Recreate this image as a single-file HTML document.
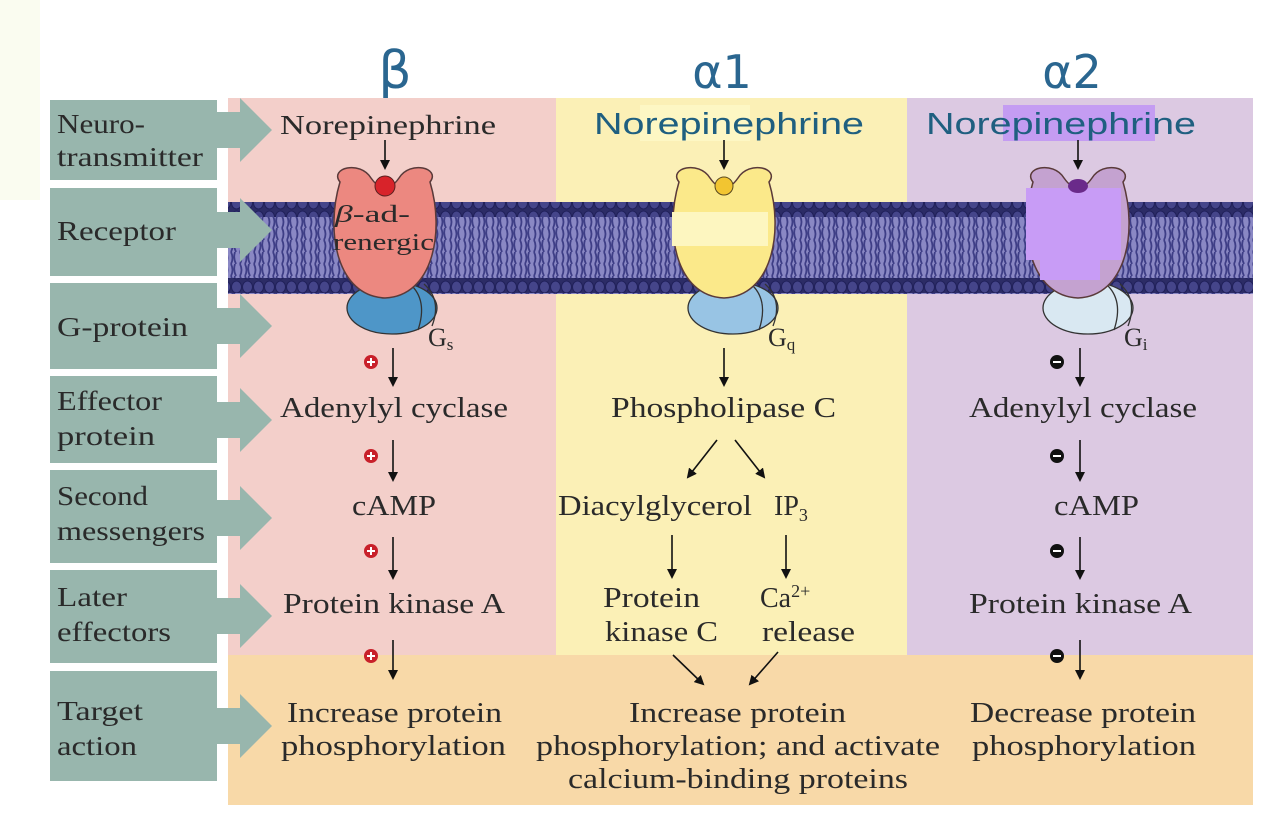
<!DOCTYPE html>
<html><head><meta charset="utf-8"><style>
html,body{margin:0;padding:0;background:#fff;}
svg{display:block;}
text{font-family:"Liberation Serif",serif;fill:#2a2a2a;}
</style></head><body>
<svg width="1268" height="816" viewBox="0 0 1268 816" xmlns="http://www.w3.org/2000/svg">
<defs>
<marker id="ah" markerWidth="10" markerHeight="10" refX="8" refY="5" orient="auto" markerUnits="userSpaceOnUse">
<path d="M0,0 L10,5 L0,10 Z" fill="#111"/></marker>
<pattern id="lip" width="14" height="12" patternUnits="userSpaceOnUse">
<rect width="14" height="12" fill="#8a88c4"/>
<path d="M2,0 Q5,6 2,12 M7,0 Q10,6 7,12 M11,0 Q9,6 12,12" stroke="#3e3e86" stroke-width="1.8" fill="none"/>
</pattern>
<pattern id="heads" width="11" height="14" patternUnits="userSpaceOnUse">
<rect width="11" height="14" fill="#2c2c66"/>
<ellipse cx="5.5" cy="7" rx="5" ry="6" fill="#45458a" stroke="#20205a" stroke-width="1"/>
</pattern>
</defs>
<rect width="1268" height="816" fill="#fff"/>
<rect x="0" y="0" width="40" height="200" fill="#fafcf0"/>
<!-- titles -->
<text x="395" y="88" font-size="52" text-anchor="middle" style="font-family:'DejaVu Sans',sans-serif;fill:#2a6690">β</text>
<text x="722" y="88" font-size="46" text-anchor="middle" style="font-family:'DejaVu Sans',sans-serif;fill:#2a6690">α1</text>
<text x="1072" y="88" font-size="46" text-anchor="middle" style="font-family:'DejaVu Sans',sans-serif;fill:#2a6690">α2</text>
<!-- panels -->
<rect x="228" y="98" width="328" height="560" fill="#f3cfca"/>
<rect x="556" y="98" width="351" height="560" fill="#fbf0b6"/>
<rect x="907" y="98" width="346" height="560" fill="#dcc9e2"/>
<rect x="228" y="655" width="1025" height="150" fill="#f8d9a8"/>
<!-- membrane -->
<rect x="228" y="202" width="1025" height="92" fill="url(#lip)"/>
<rect x="228" y="202" width="1025" height="15" fill="url(#heads)"/>
<rect x="228" y="278" width="1025" height="15" fill="url(#heads)"/>
<!-- left labels -->
<g fill="#98b6ad">
<rect x="50" y="100" width="167" height="80"/><path d="M217,112 L240,112 L240,98 L272,130 L240,162 L240,148 L217,148Z"/>
<rect x="50" y="188" width="167" height="88"/><path d="M217,212 L240,212 L240,198 L272,230 L240,262 L240,248 L217,248Z"/>
<rect x="50" y="283" width="167" height="86"/><path d="M217,308 L240,308 L240,294 L272,326 L240,358 L240,344 L217,344Z"/>
<rect x="50" y="376" width="167" height="87"/><path d="M217,402 L240,402 L240,388 L272,420 L240,452 L240,438 L217,438Z"/>
<rect x="50" y="470" width="167" height="93"/><path d="M217,500 L240,500 L240,486 L272,518 L240,550 L240,536 L217,536Z"/>
<rect x="50" y="570" width="167" height="93"/><path d="M217,598 L240,598 L240,584 L272,616 L240,648 L240,634 L217,634Z"/>
<rect x="50" y="671" width="167" height="110"/><path d="M217,708 L240,708 L240,694 L272,726 L240,758 L240,744 L217,744Z"/>
</g>
<g font-size="27" lengthAdjust="spacingAndGlyphs">
<text x="57" y="133" textLength="88" lengthAdjust="spacingAndGlyphs">Neuro-</text><text x="57" y="166" textLength="146" lengthAdjust="spacingAndGlyphs">transmitter</text>
<text x="57" y="240" textLength="119" lengthAdjust="spacingAndGlyphs">Receptor</text>
<text x="57" y="336" textLength="131" lengthAdjust="spacingAndGlyphs">G-protein</text>
<text x="57" y="410" textLength="105" lengthAdjust="spacingAndGlyphs">Effector</text><text x="57" y="445" textLength="98" lengthAdjust="spacingAndGlyphs">protein</text>
<text x="57" y="505" textLength="91" lengthAdjust="spacingAndGlyphs">Second</text><text x="57" y="540" textLength="148" lengthAdjust="spacingAndGlyphs">messengers</text>
<text x="57" y="606" textLength="70" lengthAdjust="spacingAndGlyphs">Later</text><text x="57" y="641" textLength="114" lengthAdjust="spacingAndGlyphs">effectors</text>
<text x="57" y="720" textLength="86" lengthAdjust="spacingAndGlyphs">Target</text><text x="57" y="755" textLength="80" lengthAdjust="spacingAndGlyphs">action</text>
</g>
<!-- NE labels -->
<text x="280" y="134" font-size="27" textLength="216" lengthAdjust="spacingAndGlyphs">Norepinephrine</text>
<rect x="640" y="105" width="110" height="36" fill="#fdf7c4"/>
<text x="594" y="134" font-size="31" textLength="270" lengthAdjust="spacingAndGlyphs" style="font-family:'Liberation Sans',sans-serif;fill:#1f5f80">Norepinephrine</text>
<rect x="1003" y="105" width="152" height="36" fill="#c49cf2"/>
<text x="926" y="134" font-size="31" textLength="270" lengthAdjust="spacingAndGlyphs" style="font-family:'Liberation Sans',sans-serif;fill:#1f5f80">Norepinephrine</text>
<g stroke="#111" stroke-width="1.6" marker-end="url(#ah)">
<line x1="385" y1="140" x2="385" y2="168"/><line x1="724" y1="140" x2="724" y2="168"/><line x1="1078" y1="140" x2="1078" y2="168"/>
</g>
<!-- G proteins -->
<g stroke="#333" stroke-width="1.3">
<ellipse cx="392" cy="308" rx="45" ry="26" fill="#4e96c8"/>
<path d="M410,284 Q428,300 418,330 M424,284 Q442,300 432,326" fill="none"/>
<ellipse cx="733" cy="308" rx="45" ry="26" fill="#98c4e4"/>
<path d="M751,284 Q769,300 759,330 M765,284 Q783,300 773,326" fill="none"/>
<ellipse cx="1088" cy="308" rx="45" ry="26" fill="#d9e8f2"/>
<path d="M1106,284 Q1124,300 1114,330 M1120,284 Q1138,300 1128,326" fill="none"/>
</g>
<!-- receptors -->
<g stroke="#5a3a3a" stroke-width="1.5">
<path d="M340,182 C329,168 360,160 371,178 Q385,198 399,178 C410,160 441,168 430,182 C445,232 433,296 385,298 C337,296 325,232 340,182Z" fill="#ec8880"/>
<path d="M679,182 C668,168 699,160 710,178 Q724,198 738,178 C749,160 780,168 769,182 C784,232 772,296 724,298 C676,296 664,232 679,182Z" fill="#fbe98a"/>
<path d="M1033,182 C1022,168 1053,160 1064,178 Q1078,198 1092,178 C1103,160 1134,168 1123,182 C1138,232 1126,296 1078,298 C1030,296 1018,232 1033,182Z" fill="#c4a2d0"/>
</g>
<rect x="1026" y="188" width="95" height="72" fill="#c89cf6"/>
<rect x="1040" y="255" width="60" height="25" fill="#c89cf6"/>
<rect x="672" y="212" width="96" height="34" fill="#fdf6c0"/>
<circle cx="385" cy="186" r="10" fill="#d8232a" stroke="#5a2020"/>
<circle cx="724" cy="186" r="9" fill="#f2c531" stroke="#5a4a20"/>
<ellipse cx="1078" cy="186" rx="10" ry="7" fill="#6a2a8a"/>
<text x="335" y="222" font-size="24" textLength="75" lengthAdjust="spacingAndGlyphs"><tspan font-style="italic">β</tspan>-ad-</text>
<text x="333" y="250" font-size="24" textLength="101" lengthAdjust="spacingAndGlyphs">renergic</text>
<text x="428" y="346" font-size="26">G<tspan font-size="17" dy="4">s</tspan></text>
<text x="768" y="346" font-size="26">G<tspan font-size="17" dy="4">q</tspan></text>
<text x="1124" y="346" font-size="26">G<tspan font-size="17" dy="4">i</tspan></text>
<!-- arrows -->
<g stroke="#111" stroke-width="1.6" marker-end="url(#ah)">
<line x1="393" y1="348" x2="393" y2="385"/><line x1="393" y1="440" x2="393" y2="480"/>
<line x1="393" y1="537" x2="393" y2="578"/><line x1="393" y1="640" x2="393" y2="678"/>
<line x1="724" y1="348" x2="724" y2="385"/>
<line x1="717" y1="440" x2="688" y2="477"/><line x1="735" y1="440" x2="764" y2="477"/>
<line x1="672" y1="535" x2="672" y2="577"/><line x1="786" y1="535" x2="786" y2="577"/>
<line x1="673" y1="655" x2="703" y2="684"/><line x1="778" y1="652" x2="750" y2="684"/>
<line x1="1080" y1="348" x2="1080" y2="385"/><line x1="1080" y1="440" x2="1080" y2="480"/>
<line x1="1080" y1="537" x2="1080" y2="578"/><line x1="1080" y1="640" x2="1080" y2="678"/>
</g>
<!-- plus/minus -->
<g>
<circle cx="371" cy="362" r="7" fill="#c8202a"/><circle cx="371" cy="456" r="7" fill="#c8202a"/>
<circle cx="371" cy="551" r="7" fill="#c8202a"/><circle cx="371" cy="656" r="7" fill="#c8202a"/>
<circle cx="1057" cy="362" r="7" fill="#111"/><circle cx="1057" cy="456" r="7" fill="#111"/>
<circle cx="1057" cy="551" r="7" fill="#111"/><circle cx="1057" cy="656" r="7" fill="#111"/>
</g>
<g stroke="#fff" stroke-width="2">
<path d="M367,362h8M371,358v8M367,456h8M371,452v8M367,551h8M371,547v8M367,656h8M371,652v8"/>
<path d="M1053,362h8M1053,456h8M1053,551h8M1053,656h8"/>
</g>
<!-- text -->
<g font-size="28">
<text x="280" y="417" textLength="228" lengthAdjust="spacingAndGlyphs">Adenylyl cyclase</text>
<text x="352" y="515" textLength="84" lengthAdjust="spacingAndGlyphs">cAMP</text>
<text x="283" y="613" textLength="222" lengthAdjust="spacingAndGlyphs">Protein kinase A</text>
<text x="287" y="722" textLength="215" lengthAdjust="spacingAndGlyphs">Increase protein</text>
<text x="281" y="755" textLength="225" lengthAdjust="spacingAndGlyphs">phosphorylation</text>
<text x="611" y="417" textLength="225" lengthAdjust="spacingAndGlyphs">Phospholipase C</text>
<text x="558" y="515" textLength="194" lengthAdjust="spacingAndGlyphs">Diacylglycerol</text>
<text x="774" y="515">IP<tspan font-size="18" dy="6">3</tspan></text>
<text x="603" y="607" textLength="97" lengthAdjust="spacingAndGlyphs">Protein</text>
<text x="605" y="641" textLength="113" lengthAdjust="spacingAndGlyphs">kinase C</text>
<text x="760" y="607">Ca<tspan font-size="18" dy="-10">2+</tspan></text>
<text x="762" y="641" textLength="93" lengthAdjust="spacingAndGlyphs">release</text>
<text x="629" y="722" textLength="217" lengthAdjust="spacingAndGlyphs">Increase protein</text>
<text x="536" y="755" textLength="404" lengthAdjust="spacingAndGlyphs">phosphorylation; and activate</text>
<text x="568" y="788" textLength="340" lengthAdjust="spacingAndGlyphs">calcium-binding proteins</text>
<text x="969" y="417" textLength="228" lengthAdjust="spacingAndGlyphs">Adenylyl cyclase</text>
<text x="1054" y="515" textLength="85" lengthAdjust="spacingAndGlyphs">cAMP</text>
<text x="969" y="613" textLength="223" lengthAdjust="spacingAndGlyphs">Protein kinase A</text>
<text x="970" y="722" textLength="226" lengthAdjust="spacingAndGlyphs">Decrease protein</text>
<text x="972" y="755" textLength="224" lengthAdjust="spacingAndGlyphs">phosphorylation</text>
</g>
</svg>
</body></html>
